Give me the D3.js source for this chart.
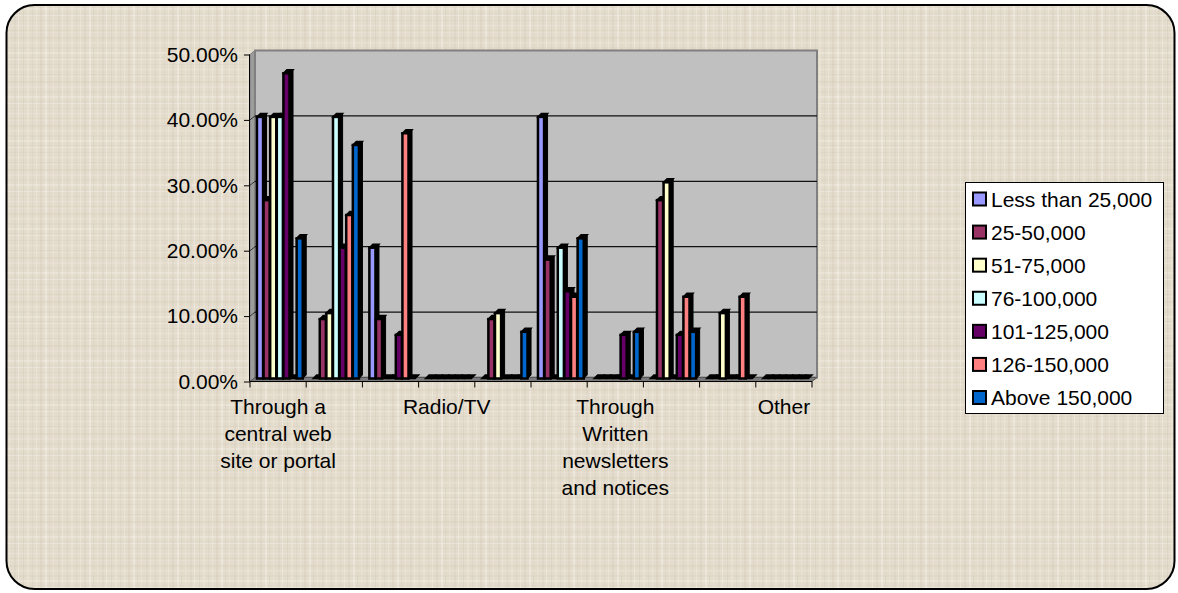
<!DOCTYPE html>
<html><head><meta charset="utf-8">
<script src="https://cdn.jsdelivr.net/npm/d3@7"></script>
<style>html,body{margin:0;padding:0;background:#fff;}svg{display:block;font-family:"Liberation Sans",Arial,sans-serif;}</style>
</head><body>
<svg id="chart" width="1178" height="593"></svg>
<script>
// ---- data ----
const categoryLabels = [
  ["Through a", "central web", "site or portal"],
  [], [],
  ["Radio/TV"],
  [], [],
  ["Through", "Written", "newsletters", "and notices"],
  [], [],
  ["Other"]
];
const seriesNames = ["Less than 25,000", "25-50,000", "51-75,000", "76-100,000", "101-125,000", "126-150,000", "Above 150,000"];
const seriesColors = ["#9999FF", "#993366", "#FFFFCC", "#CCFFFF", "#660066", "#FF8080", "#0066CC"];
const lessThan25 = [0.40, 0, 0.20, 0, 0, 0.40, 0, 0, 0, 0];
const from25to50 = [0.2727, 0.0909, 0.0909, 0, 0.0909, 0.1818, 0, 0.2727, 0, 0];
const from51to75 = [0.40, 0.10, 0, 0, 0.10, 0, 0, 0.30, 0.10, 0];
const from76to100 = [0.40, 0.40, 0, 0, 0, 0.20, 0, 0, 0, 0];
const from101to125 = [0.4667, 0.20, 0.0667, 0, 0, 0.1333, 0.0667, 0.0667, 0, 0];
const from126to150 = [0, 0.25, 0.375, 0, 0, 0.125, 0, 0.125, 0.125, 0];
const above150 = [0.2143, 0.3571, 0, 0, 0.0714, 0.2143, 0.0714, 0.0714, 0, 0];
const seriesValues = [lessThan25, from25to50, from51to75, from76to100, from101to125, from126to150, above150];
const yTicks = [0, 0.1, 0.2, 0.3, 0.4, 0.5];

// ---- drawing ----
const svg = d3.select("#chart");
const defs = svg.append("defs");
const FONT = '"Liberation Sans",Arial,sans-serif';

// linen-like texture
const P = 44;
const pat = defs.append("pattern").attr("id", "linen").attr("patternUnits", "userSpaceOnUse")
  .attr("width", P).attr("height", P);
pat.append("rect").attr("width", P).attr("height", P).attr("fill", "#E3DBCB");
const tex = [[1, "#F3EEE5", 0.55, 2], [5, "#D3C9B7", 0.35, 1], [9, "#F0EADF", 0.45, 1], [14, "#D6CCBA", 0.3, 2], [18, "#F4F0E8", 0.5, 1], [23, "#D1C7B4", 0.35, 1], [27, "#EFE9DD", 0.45, 2], [32, "#D5CBB9", 0.3, 1], [36, "#F2EDE4", 0.5, 1], [40, "#D2C8B6", 0.35, 2]];
tex.forEach(([p, c, o, w], i) => {
  pat.append("rect").attr("x", p).attr("y", 0).attr("width", w).attr("height", P).attr("fill", c).attr("opacity", o);
  pat.append("rect").attr("x", 0).attr("y", (p * 3 + 5) % P).attr("width", P).attr("height", w).attr("fill", c).attr("opacity", o * 0.8);
});

// outer frame
svg.append("rect").attr("x", 6.5).attr("y", 5).attr("width", 1168).attr("height", 584)
  .attr("rx", 28).attr("ry", 28).attr("fill", "url(#linen)").attr("stroke", "#000").attr("stroke-width", 2);

const left = 250, right = 812, depthX = 5, depthY = -4;
const y = d3.scaleLinear().domain([0, 0.5]).range([381.5, 54.5]);
const x0 = d3.scaleBand().domain(d3.range(categoryLabels.length)).range([left, right]).paddingInner(0).paddingOuter(0);
const step = x0.step();
const gapHalf = step * 1.5 / 8.5 / 2;
const x1 = d3.scaleBand().domain(d3.range(seriesNames.length)).range([gapHalf, step - gapHalf]);

const g = svg.append("g");
const y0 = y(0), yTop = y(0.5);
// side wall
g.append("polygon").attr("points", [[left, yTop], [left + depthX, yTop + depthY], [left + depthX, y0 + depthY], [left, y0]].join(" "))
  .attr("fill", "#9C9C9C").attr("stroke", "#808080").attr("stroke-width", 1);
// back wall
g.append("rect").attr("x", left + depthX).attr("y", yTop + depthY).attr("width", right - left).attr("height", y0 - yTop)
  .attr("fill", "#C0C0C0").attr("stroke", "#808080").attr("stroke-width", 2);
// gridlines on back wall
g.selectAll("line.grid").data(yTicks.filter(d => d > 0 && d < 0.5)).join("line").attr("class", "grid")
  .attr("x1", left + depthX).attr("x2", right + depthX)
  .attr("y1", d => y(d) + depthY).attr("y2", d => y(d) + depthY)
  .attr("stroke", "#111").attr("stroke-width", 1.2);
g.selectAll("line.sgrid").data(yTicks.filter(d => d > 0 && d < 0.5)).join("line").attr("class", "sgrid")
  .attr("x1", left).attr("x2", left + depthX)
  .attr("y1", d => y(d)).attr("y2", d => y(d) + depthY)
  .attr("stroke", "#333").attr("stroke-width", 1);
// floor
g.append("polygon").attr("points", [[left, y0], [left + depthX, y0 + depthY], [right + depthX, y0 + depthY], [right, y0]].join(" "))
  .attr("fill", "#7A7A7A").attr("stroke", "#555").attr("stroke-width", 1);

// bars
const bx = 2, by = -3, bd = 3.5;
const bars = [];
seriesValues.forEach((vals, s) => vals.forEach((v, c) => bars.push({ s, c, v })));
const barG = g.append("g");
bars.forEach(b => {
  const xl = x0(b.c) + x1(b.s) + bx;
  const w = x1.bandwidth() - 0.5;
  const base = y(0) + by;
  const top = y(b.v) + by;
  const bg = barG.append("g");
  bg.append("polygon").attr("points", [[xl + w, top], [xl + w + bd, top - bd], [xl + w + bd, base - bd], [xl + w, base]].join(" "))
    .attr("fill", "#000").attr("stroke", "#000").attr("stroke-width", 1);
  bg.append("polygon").attr("points", [[xl, top], [xl + bd, top - bd], [xl + w + bd, top - bd], [xl + w, top]].join(" "))
    .attr("fill", "#000").attr("stroke", "#000").attr("stroke-width", 1.5);
  if (b.v > 0) {
    bg.append("rect").attr("x", xl).attr("y", top).attr("width", w).attr("height", base - top)
      .attr("fill", seriesColors[b.s]).attr("stroke", "#000").attr("stroke-width", 2.5);
  }
});

// y axis
const yAxis = d3.axisLeft(y).tickValues(yTicks).tickFormat(d3.format(".2%")).tickSize(6).tickPadding(6);
const ya = svg.append("g").attr("transform", `translate(${left},0)`).call(yAxis);
ya.select(".domain").attr("stroke", "#000").attr("d", `M-0.5,${y0}V${yTop}`);
ya.selectAll(".tick line").attr("stroke", "#000");
ya.selectAll(".tick text").attr("font-size", 21).attr("fill", "#000").attr("font-family", FONT);

// x axis line and ticks
svg.append("line").attr("x1", left).attr("x2", right).attr("y1", y0).attr("y2", y0).attr("stroke", "#000").attr("stroke-width", 1);
const bounds = d3.range(categoryLabels.length + 1).map(i => left + i * step);
svg.selectAll("line.xt").data(bounds).join("line").attr("class", "xt")
  .attr("x1", d => d).attr("x2", d => d).attr("y1", y0).attr("y2", y0 + 6).attr("stroke", "#000");
// x labels
categoryLabels.forEach((lines, c) => {
  const cx = x0(c) + step / 2;
  const t = svg.append("text").attr("text-anchor", "middle").attr("font-size", 21).attr("fill", "#000");
  lines.forEach((ln, i) => t.append("tspan").attr("x", cx).attr("y", 414 + i * 27).text(ln));
});

// legend
const lg = svg.append("g");
lg.append("rect").attr("x", 965.5).attr("y", 182.5).attr("width", 198).attr("height", 231).attr("fill", "#fff").attr("stroke", "#000").attr("stroke-width", 1);
const rowY = d3.scalePoint().domain(d3.range(seriesNames.length)).range([199, 397.5]);
seriesNames.forEach((n, i) => {
  lg.append("rect").attr("x", 973).attr("y", rowY(i) - 6.5).attr("width", 13).attr("height", 13)
    .attr("fill", seriesColors[i]).attr("stroke", "#000").attr("stroke-width", 2);
  lg.append("text").attr("x", 991).attr("y", rowY(i) + 7.5).attr("font-size", 21).attr("fill", "#000").text(n);
});
</script>
</body></html>
